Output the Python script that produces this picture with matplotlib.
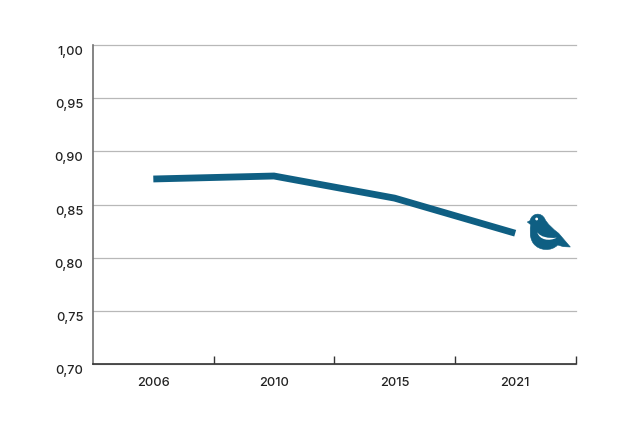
import matplotlib
matplotlib.use("Agg")
import matplotlib.pyplot as plt
from matplotlib.path import Path
from matplotlib.patches import PathPatch, Circle
from matplotlib.transforms import Affine2D, ScaledTranslation

years = ["2006", "2010", "2015", "2021"]
values = [0.874, 0.8768, 0.856, 0.823]
y_ticks = [0.70, 0.75, 0.80, 0.85, 0.90, 0.95, 1.00]
y_labels = ["0,70", "0,75", "0,80", "0,85", "0,90", "0,95", "1,00"]
band_edges = [0.5, 1.5, 2.5, 3.5]

BLUE = "#0f5f83"
W, H = 640, 422
plt.rcParams["font.family"] = ["Inter", "DejaVu Sans"]

fig = plt.figure(figsize=(W / 100, H / 100), dpi=100, facecolor="white")
ax = fig.add_axes([93 / W, 1 - 364 / H, (575.5 - 93) / W, (364 - 45) / H])
ax.set_xlim(-0.5, 3.5)
ax.set_ylim(0.70, 1.00)
ax.set_facecolor("white")

ax.set_yticks(y_ticks, y_labels)
ax.grid(axis="y", color="#b8b8b8", lw=0.9, clip_on=False, zorder=1)
ax.set_axisbelow(True)
ax.plot(range(len(years)), values, color=BLUE, lw=4.9, solid_capstyle="butt",
        solid_joinstyle="miter", zorder=3)

for s in ("top", "right"):
    ax.spines[s].set_visible(False)
ax.spines["left"].set_color("#707070")
ax.spines["left"].set_linewidth(1.2)
ax.spines["bottom"].set_color("#333333")
ax.spines["bottom"].set_linewidth(1.2)

ax.set_xticks(range(len(years)), years)
ax.tick_params(axis="x", which="major", length=0, pad=9.5, labelsize=9.2, labelcolor="#222222")
ax.set_xticks(band_edges, minor=True)
ax.tick_params(axis="x", which="minor", direction="in", length=5.5, width=1, color="#333333")
ax.tick_params(axis="y", length=0, pad=7, labelsize=9.2, labelcolor="#222222")
shift = ScaledTranslation(0, -4 / 72, fig.dpi_scale_trans)
for lab in ax.get_yticklabels():
    lab.set_transform(lab.get_transform() + shift)
for lab in ax.get_xticklabels() + ax.get_yticklabels():
    lab.set_fontweight(500)

# Logo, drawn in reference pixel units (crop origin 480,190 at 3x)
logo = (Affine2D().scale(1 / 3, 1 / 3).translate(480, 190)
        .scale(1 / W, -1 / H).translate(0, 1) + fig.transFigure)
M, L = Path.MOVETO, Path.LINETO
C4 = Path.CURVE4
body = [
    ((142, 96), M), ((150, 92), L), ((156, 68), C4), ((184, 66), C4), ((194, 86), C4),
    ((202, 102), C4), ((218, 116), C4), ((236, 130), C4), ((271, 171), L),
    ((250, 170), L), ((233, 165), L), ((215, 184), C4), ((178, 184), C4), ((160, 160), C4),
    ((146, 140), C4), ((151, 115), C4), ((152, 104), C4), ((142, 96), L),
]
fig.add_artist(PathPatch(Path([p for p, _ in body], [c for _, c in body]),
                         fc=BLUE, ec=BLUE, lw=0.4, transform=logo, zorder=5))
wing = [
    ((172, 127), M), ((182, 141), C4), ((205, 146), C4), ((230, 143), C4),
    ((208, 155), C4), ((178, 150), C4), ((172, 127), C4),
]
fig.add_artist(PathPatch(Path([p for p, _ in wing], [c for _, c in wing]),
                         fc="white", ec="none", transform=logo, zorder=6))
fig.add_artist(Circle((170, 87), 4.2, fc="white", ec="none", transform=logo, zorder=6))

fig.savefig("out.png", dpi=100, facecolor="white")
